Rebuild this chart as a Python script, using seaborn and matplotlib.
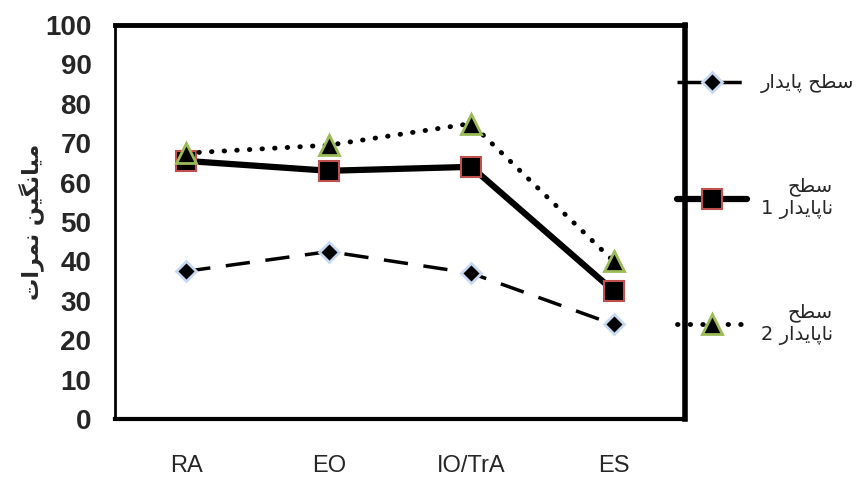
import numpy as np
import pandas as pd
import matplotlib
matplotlib.use("Agg")
import matplotlib.pyplot as plt
import seaborn as sns

# Data
muscles = ["RA", "EO", "IO/TrA", "ES"]
stable = [37.5, 42.5, 37.0, 24.0]
unstable_1 = [65.5, 63.0, 64.0, 32.5]
unstable_2 = [67.5, 69.5, 75.0, 40.0]

# Persian labels (visual order, presentation forms, since matplotlib has no shaping)
sath = "\uFEA2\uFEC4\uFEB3"                                   # سطح
payedar = "\uFEAD\uFE8D\uFEAA\uFBFE\uFE8E\uFB58"              # پایدار
napayedar = payedar + "\uFE8E\uFEE7"                           # ناپایدار
lab_stable = payedar + " " + sath
lab_un1 = sath + "\n1 " + napayedar
lab_un2 = sath + "\n2 " + napayedar
ylab = ("\uFE95\uFE8D\uFEAE\uFEE4\uFEE7" + " " +
        "\uFEE6\uFBFF\uFB95\uFEE7\uFE8E\uFBFF\uFEE3")              # میانگین نمرات

sns.set_style("white")
plt.rcParams['font.family'] = ['Liberation Sans', 'DejaVu Sans']

fig = plt.figure(figsize=(8.56, 4.79), dpi=100)
ax = fig.add_axes([115 / 856, 1 - 419 / 479, 570 / 856, 394 / 479])

sns.lineplot(x=muscles, y=stable, ax=ax, color="black", linestyle=(0, (7, 4.5)), lw=2.5,
             marker="D", markersize=10, markerfacecolor="black", markeredgecolor="#c6d9f1",
             markeredgewidth=2, label=lab_stable, sort=False)
sns.lineplot(x=muscles, y=unstable_1, ax=ax, color="black", linestyle="-", lw=4.5,
             marker="s", markersize=14, markerfacecolor="black", markeredgecolor="#c0504d",
             markeredgewidth=1.5, label=lab_un1, sort=False)
sns.lineplot(x=muscles, y=unstable_2, ax=ax, color="black", linestyle=(0, (0.1, 2.5)), lw=3.5,
             dash_capstyle="round", marker="^", markersize=14, markerfacecolor="black",
             markeredgecolor="#9bbb59", markeredgewidth=2, label=lab_un2, sort=False)

ax.set_xlim(-0.5, 3.5)
ax.set_ylim(0, 100)
ax.set_yticks(np.arange(0, 101, 10))
ax.tick_params(axis="y", direction="in", length=5, color="#888888", labelsize=20, pad=17)
for t in ax.get_yticklabels():
    t.set_fontweight("bold")

# category labels at centres (minor, inward ticks), boundaries get outward major ticks
ax.set_xticks(np.arange(-0.5, 3.6, 1))
ax.set_xticklabels([])
ax.set_xticks(np.arange(4), minor=True)
ax.set_xticklabels(muscles, minor=True, fontsize=17, fontstretch="condensed")
ax.tick_params(axis="x", which="major", direction="out", length=10, color="#888888", width=1.5)
ax.tick_params(axis="x", which="minor", direction="in", length=6, color="#888888", width=1.5,
               pad=26)

ax.set_xlabel("")
ax.set_ylabel(ylab, fontsize=16, fontweight="bold", family=["DejaVu Sans"])
ax.yaxis.set_label_coords(-0.125, 0.5)

for side, lw in [("left", 2), ("bottom", 3), ("top", 3.5), ("right", 4)]:
    ax.spines[side].set_visible(True)
    ax.spines[side].set_color("black")
    ax.spines[side].set_linewidth(lw)

leg = ax.legend(loc="upper left", bbox_to_anchor=(0.986, 0.877), frameon=False,
                borderpad=0, borderaxespad=0, handlelength=3.6, handletextpad=0.7,
                labelspacing=4.3, prop={"family": "DejaVu Sans", "size": 14})
for t in leg.get_texts():
    t.set_multialignment("right")

fig.savefig("out.png", dpi=100)
